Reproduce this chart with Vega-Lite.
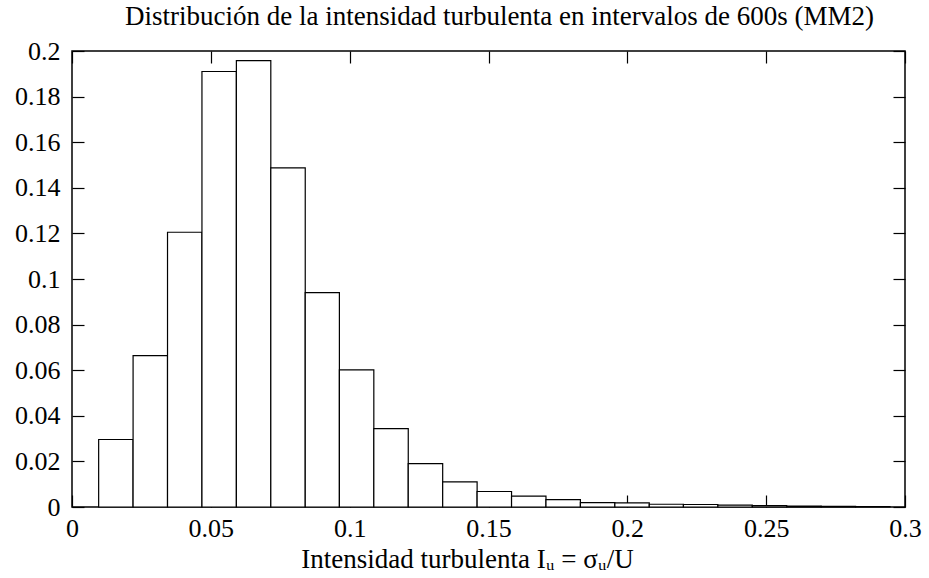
{
  "$schema": "https://vega.github.io/schema/vega-lite/v6.json",
  "autosize": "none",
  "width": 833,
  "height": 456,
  "padding": {"left": 72, "top": 51, "right": 24, "bottom": 71},
  "background": "white",
  "config": {
    "view": {"stroke": "black", "strokeWidth": 1.5},
    "font": "Liberation Serif",
    "axis": {"grid": false, "domain": false, "tickColor": "black", "tickWidth": 1.2, "labelColor": "black", "labelFont": "Liberation Serif", "labelFontSize": 26, "titleFont": "Liberation Serif", "titleFontWeight": "normal", "titleColor": "black", "titleFontSize": 27}
  },
  "title": {"text": "Distribución de la intensidad turbulenta en intervalos de 600s (MM2)", "font": "Liberation Serif", "fontSize": 27, "fontWeight": "normal", "color": "black", "anchor": "middle", "frame": "group", "baseline": "alphabetic", "offset": 0, "dy": 14, "dx": 11},
  "data": {"values": [
    {"lo": 0.0096, "hi": 0.0220, "freq": 0.0296},
    {"lo": 0.0220, "hi": 0.0344, "freq": 0.0664},
    {"lo": 0.0344, "hi": 0.0468, "freq": 0.1205},
    {"lo": 0.0468, "hi": 0.0592, "freq": 0.1910},
    {"lo": 0.0592, "hi": 0.0716, "freq": 0.1958},
    {"lo": 0.0716, "hi": 0.0840, "freq": 0.1487},
    {"lo": 0.0840, "hi": 0.0963, "freq": 0.0940},
    {"lo": 0.0963, "hi": 0.1087, "freq": 0.0601},
    {"lo": 0.1087, "hi": 0.1211, "freq": 0.0344},
    {"lo": 0.1211, "hi": 0.1335, "freq": 0.0190},
    {"lo": 0.1335, "hi": 0.1459, "freq": 0.0110},
    {"lo": 0.1459, "hi": 0.1583, "freq": 0.0068},
    {"lo": 0.1583, "hi": 0.1707, "freq": 0.0048},
    {"lo": 0.1707, "hi": 0.1831, "freq": 0.0032},
    {"lo": 0.1831, "hi": 0.1955, "freq": 0.0019},
    {"lo": 0.1955, "hi": 0.2079, "freq": 0.0018},
    {"lo": 0.2079, "hi": 0.2202, "freq": 0.0012},
    {"lo": 0.2202, "hi": 0.2326, "freq": 0.0011},
    {"lo": 0.2326, "hi": 0.2450, "freq": 0.0008},
    {"lo": 0.2450, "hi": 0.2574, "freq": 0.0006},
    {"lo": 0.2574, "hi": 0.2698, "freq": 0.0004},
    {"lo": 0.2698, "hi": 0.2822, "freq": 0.0003},
    {"lo": 0.2822, "hi": 0.2946, "freq": 0.0002}
  ]},
  "layer": [
    {
      "mark": {"type": "bar", "fill": "white", "stroke": "black", "strokeWidth": 1.2},
      "encoding": {
        "x": {"field": "lo", "type": "quantitative", "scale": {"domain": [0, 0.3], "nice": false},
              "axis": {"orient": "bottom", "values": [0, 0.05, 0.1, 0.15, 0.2, 0.25, 0.3], "format": "~g", "tickSize": -12, "labelPadding": 20, "labelFlush": false, "labelOverlap": false,
                       "title": "Intensidad turbulenta Iᵤ = σᵤ/U", "titleX": 395, "titleY": 60, "titleBaseline": "alphabetic", "titleAnchor": "middle", "titleAlign": "center"}},
        "x2": {"field": "hi"},
        "y": {"field": "freq", "type": "quantitative", "scale": {"domain": [0, 0.2], "nice": false},
              "axis": {"orient": "left", "values": [0, 0.02, 0.04, 0.06, 0.08, 0.1, 0.12, 0.14, 0.16, 0.18, 0.2], "format": "~g", "tickSize": -12, "labelPadding": 24, "labelFlush": false, "labelOverlap": false, "title": null}},
        "y2": {"datum": 0}
      }
    },
    {
      "mark": {"type": "bar", "opacity": 0},
      "encoding": {
        "x": {"field": "lo", "type": "quantitative", "axis": {"orient": "top", "values": [0, 0.05, 0.1, 0.15, 0.2, 0.25, 0.3], "tickSize": -12, "labels": false, "title": null}},
        "x2": {"field": "hi"},
        "y": {"field": "freq", "type": "quantitative", "axis": {"orient": "right", "values": [0, 0.02, 0.04, 0.06, 0.08, 0.1, 0.12, 0.14, 0.16, 0.18, 0.2], "tickSize": -12, "labels": false, "title": null}},
        "y2": {"datum": 0}
      }
    }
  ],
  "resolve": {"axis": {"x": "independent", "y": "independent"}}
}
